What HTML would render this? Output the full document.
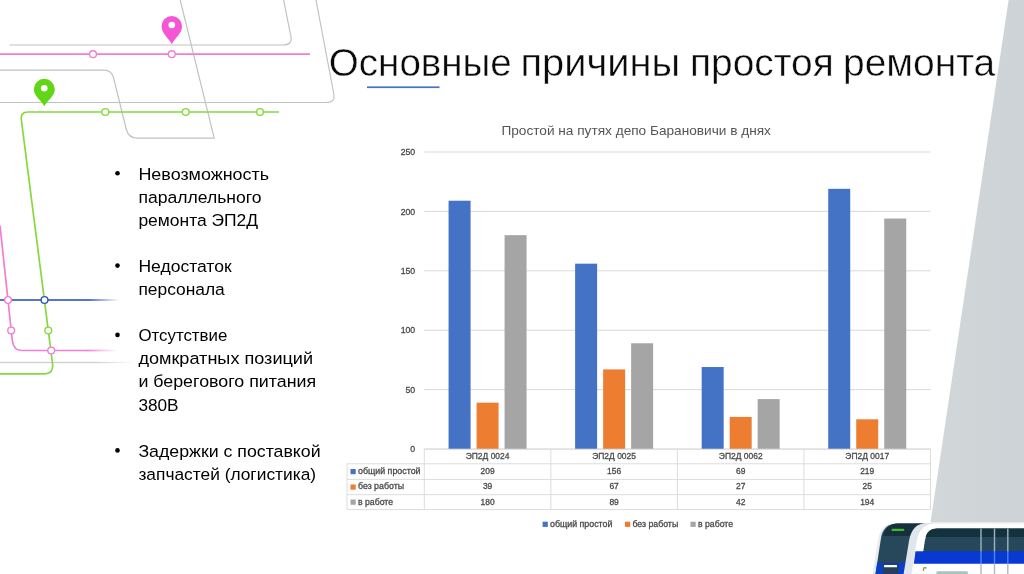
<!DOCTYPE html>
<html lang="ru"><head><meta charset="utf-8"><title>Основные причины простоя ремонта</title>
<style>html,body{margin:0;padding:0;background:#fff;overflow:hidden}svg{display:block}text{font-family:"Liberation Sans",sans-serif}</style>
</head><body>
<svg width="1024" height="574" viewBox="0 0 1024 574">
<defs>
<linearGradient id="fp" gradientUnits="userSpaceOnUse" x1="86" x2="118" y1="0" y2="0"><stop offset="0" stop-color="#f07fd2"/><stop offset="1" stop-color="#f07fd2" stop-opacity="0"/></linearGradient>
<linearGradient id="fg" gradientUnits="userSpaceOnUse" x1="0" x2="135" y1="0" y2="0"><stop offset="0" stop-color="#cfcfcf"/><stop offset="0.7" stop-color="#cfcfcf"/><stop offset="1" stop-color="#cfcfcf" stop-opacity="0"/></linearGradient>
<linearGradient id="fbl" gradientUnits="userSpaceOnUse" x1="0" x2="119" y1="0" y2="0"><stop offset="0" stop-color="#2f55b5"/><stop offset="0.75" stop-color="#2f55b5"/><stop offset="1" stop-color="#2f55b5" stop-opacity="0"/></linearGradient>
<linearGradient id="poly" x1="0" x2="1" y1="0" y2="0"><stop offset="0" stop-color="#d2d8d9"/><stop offset="1" stop-color="#cdd3d6"/></linearGradient>
</defs>
<rect width="1024" height="574" fill="#fff"/>
<polygon points="1008.6,0 1024,0 1024,522.4 930.5,522.4" fill="url(#poly)"/>
<g fill="none" stroke="#c0c3c3" stroke-width="1.2" stroke-linecap="round">
<path d="M10,45 H283 Q292.5,45 291,37 L283.6,0"/>
<path d="M0,70.2 H104 Q111.5,70.2 113.6,78 L126.3,129.5 Q128.6,138.2 138,138.2 H214.2 L180.2,0"/>
<path d="M0,102.5 H326 Q335.5,102.5 333.8,94 L316,0"/>
</g>
<rect x="0" y="361.85" width="140" height="1.3" fill="url(#fg)"/>
<path d="M0,54.2 H310" fill="none" stroke="#f07fd2" stroke-width="1.7"/>
<path d="M279,112 H28 Q20.5,112 21.3,119.5 L50.9,351 L52.6,364 Q53.4,373.8 45,373.8 H0" fill="none" stroke="#86d83f" stroke-width="1.7" stroke-linejoin="round"/>
<path d="M0,225.5 L11.3,331 L12.4,341 Q13.5,350.5 22,350.5 H86" fill="none" stroke="#f07fd2" stroke-width="1.7"/>
<rect x="86" y="349.65" width="38" height="1.7" fill="url(#fp)"/>
<rect x="0" y="299.2" width="126" height="1.6" fill="url(#fbl)"/>
<circle cx="93" cy="54.2" r="3.4" fill="#fff" stroke="#f07fd2" stroke-width="1.4"/>
<circle cx="171.8" cy="54.2" r="3.4" fill="#fff" stroke="#f07fd2" stroke-width="1.4"/>
<circle cx="105.3" cy="112" r="3.4" fill="#fff" stroke="#86d83f" stroke-width="1.4"/>
<circle cx="185.7" cy="112" r="3.4" fill="#fff" stroke="#86d83f" stroke-width="1.4"/>
<circle cx="260" cy="112" r="3.4" fill="#fff" stroke="#86d83f" stroke-width="1.4"/>
<circle cx="8" cy="300" r="3.4" fill="#fff" stroke="#f07fd2" stroke-width="1.4"/>
<circle cx="44.5" cy="300" r="3.4" fill="#fff" stroke="#2f55b5" stroke-width="1.4"/>
<circle cx="11.2" cy="330.5" r="3.4" fill="#fff" stroke="#f07fd2" stroke-width="1.4"/>
<circle cx="48.3" cy="330.5" r="3.4" fill="#fff" stroke="#86d83f" stroke-width="1.4"/>
<circle cx="51.2" cy="350.5" r="3.4" fill="#fff" stroke="#f07fd2" stroke-width="1.4"/>
<path d="M171.8,44.2 C168.8,38.2 161.55,33.15 161.55,26.15 A10.25,10.25 0 1 1 182.05,26.15 C182.05,33.15 174.8,38.2 171.8,44.2 Z" fill="#f556d4"/>
<circle cx="171.8" cy="25.049999999999997" r="3.3" fill="#fff"/>
<path d="M44.3,106.3 C41.3,100.3 33.8,96.3 33.8,89.3 A10.5,10.5 0 1 1 54.8,89.3 C54.8,96.3 47.3,100.3 44.3,106.3 Z" fill="#60d614"/>
<circle cx="44.3" cy="88.2" r="3.3" fill="#fff"/>
<text y="75.5" fill="#0a0a0a" stroke="#fff" stroke-width="0.45" font-size="39.5"><tspan x="328.8" textLength="183.0" lengthAdjust="spacingAndGlyphs">Основные</tspan> <tspan x="520.4" textLength="159.7" lengthAdjust="spacingAndGlyphs">причины</tspan> <tspan x="690.0" textLength="143.7" lengthAdjust="spacingAndGlyphs">простоя</tspan> <tspan x="843.0" textLength="152.2" lengthAdjust="spacingAndGlyphs">ремонта</tspan></text>
<rect x="367" y="86.4" width="72.5" height="1.7" fill="#4472c4"/>
<text x="138.4" y="179.5" font-size="17.2" fill="#000" text-anchor="start" textLength="130.70000000000002" lengthAdjust="spacingAndGlyphs">Невозможность</text>
<circle cx="117.5" cy="173.2" r="2.3" fill="#000"/>
<text x="138.4" y="202.6" font-size="17.2" fill="#000" text-anchor="start" textLength="123.2" lengthAdjust="spacingAndGlyphs">параллельного</text>
<text x="138.4" y="225.7" font-size="17.2" fill="#000" text-anchor="start" textLength="119.7" lengthAdjust="spacingAndGlyphs">ремонта ЭП2Д</text>
<text x="138.4" y="271.9" font-size="17.2" fill="#000" text-anchor="start" textLength="93.2" lengthAdjust="spacingAndGlyphs">Недостаток</text>
<circle cx="117.5" cy="265.59999999999997" r="2.3" fill="#000"/>
<text x="138.4" y="295.0" font-size="17.2" fill="#000" text-anchor="start" textLength="86.4" lengthAdjust="spacingAndGlyphs">персонала</text>
<text x="138.4" y="341.2" font-size="17.2" fill="#000" text-anchor="start" textLength="88.9" lengthAdjust="spacingAndGlyphs">Отсутствие</text>
<circle cx="117.5" cy="334.9" r="2.3" fill="#000"/>
<text x="138.4" y="364.3" font-size="17.2" fill="#000" text-anchor="start" textLength="174.70000000000002" lengthAdjust="spacingAndGlyphs">домкратных позиций</text>
<text x="138.4" y="387.4" font-size="17.2" fill="#000" text-anchor="start" textLength="177.70000000000002" lengthAdjust="spacingAndGlyphs">и берегового питания</text>
<text x="138.4" y="410.5" font-size="17.2" fill="#000" text-anchor="start" textLength="40.199999999999996" lengthAdjust="spacingAndGlyphs">380В</text>
<text x="138.4" y="456.7" font-size="17.2" fill="#000" text-anchor="start" textLength="182.20000000000002" lengthAdjust="spacingAndGlyphs">Задержки с поставкой</text>
<circle cx="117.5" cy="450.4" r="2.3" fill="#000"/>
<text x="138.4" y="479.8" font-size="17.2" fill="#000" text-anchor="start" textLength="177.70000000000002" lengthAdjust="spacingAndGlyphs">запчастей (логистика)</text>
<text x="636.2" y="135" font-size="13.1" fill="#555" text-anchor="middle" textLength="269.5" lengthAdjust="spacingAndGlyphs">Простой на путях депо Барановичи в днях</text>
<rect x="424.3" y="448.50" width="506.2" height="1" fill="#d9d9d9"/>
<text x="415.2" y="452.1" font-size="8.8" fill="#4a4a4a" text-anchor="end" textLength="4.85" lengthAdjust="spacingAndGlyphs" stroke="#4a4a4a" stroke-width="0.3">0</text>
<rect x="424.3" y="389.10" width="506.2" height="1" fill="#d9d9d9"/>
<text x="415.2" y="392.70000000000005" font-size="8.8" fill="#4a4a4a" text-anchor="end" textLength="9.7" lengthAdjust="spacingAndGlyphs" stroke="#4a4a4a" stroke-width="0.3">50</text>
<rect x="424.3" y="329.70" width="506.2" height="1" fill="#d9d9d9"/>
<text x="415.2" y="333.3" font-size="8.8" fill="#4a4a4a" text-anchor="end" textLength="14.549999999999999" lengthAdjust="spacingAndGlyphs" stroke="#4a4a4a" stroke-width="0.3">100</text>
<rect x="424.3" y="270.30" width="506.2" height="1" fill="#d9d9d9"/>
<text x="415.2" y="273.90000000000003" font-size="8.8" fill="#4a4a4a" text-anchor="end" textLength="14.549999999999999" lengthAdjust="spacingAndGlyphs" stroke="#4a4a4a" stroke-width="0.3">150</text>
<rect x="424.3" y="210.90" width="506.2" height="1" fill="#d9d9d9"/>
<text x="415.2" y="214.5" font-size="8.8" fill="#4a4a4a" text-anchor="end" textLength="14.549999999999999" lengthAdjust="spacingAndGlyphs" stroke="#4a4a4a" stroke-width="0.3">200</text>
<rect x="424.3" y="151.50" width="506.2" height="1" fill="#d9d9d9"/>
<text x="415.2" y="155.1" font-size="8.8" fill="#4a4a4a" text-anchor="end" textLength="14.549999999999999" lengthAdjust="spacingAndGlyphs" stroke="#4a4a4a" stroke-width="0.3">250</text>
<rect x="448.57" y="200.71" width="22" height="248.29" fill="#4472c4"/>
<rect x="476.57" y="402.67" width="22" height="46.33" fill="#ed7d31"/>
<rect x="504.57" y="235.16" width="22" height="213.84" fill="#a5a5a5"/>
<rect x="575.12" y="263.67" width="22" height="185.33" fill="#4472c4"/>
<rect x="603.12" y="369.40" width="22" height="79.60" fill="#ed7d31"/>
<rect x="631.12" y="343.27" width="22" height="105.73" fill="#a5a5a5"/>
<rect x="701.67" y="367.03" width="22" height="81.97" fill="#4472c4"/>
<rect x="729.67" y="416.92" width="22" height="32.08" fill="#ed7d31"/>
<rect x="757.67" y="399.10" width="22" height="49.90" fill="#a5a5a5"/>
<rect x="828.23" y="188.83" width="22" height="260.17" fill="#4472c4"/>
<rect x="856.23" y="419.30" width="22" height="29.70" fill="#ed7d31"/>
<rect x="884.23" y="218.53" width="22" height="230.47" fill="#a5a5a5"/>
<g stroke="#dcdcdc" stroke-width="1" fill="none">
<path d="M424.3,449.2 H930.5"/>
<path d="M347,463.8 H930.5"/>
<path d="M347,479.4 H930.5"/>
<path d="M347,494.7 H930.5"/>
<path d="M347,509.6 H930.5"/>
<path d="M347,463.8 V509.6"/>
<path d="M424.30,449.2 V509.6"/>
<path d="M550.85,449.2 V509.6"/>
<path d="M677.40,449.2 V509.6"/>
<path d="M803.95,449.2 V509.6"/>
<path d="M930.50,449.2 V509.6"/>
</g>
<text x="487.6" y="459.4" font-size="8.8" fill="#4a4a4a" text-anchor="middle" textLength="43.8" lengthAdjust="spacingAndGlyphs" stroke="#4a4a4a" stroke-width="0.3">ЭП2Д 0024</text>
<text x="487.6" y="473.8" font-size="8.8" fill="#4a4a4a" text-anchor="middle" textLength="14.100000000000001" lengthAdjust="spacingAndGlyphs" stroke="#4a4a4a" stroke-width="0.3">209</text>
<text x="487.6" y="489.4" font-size="8.8" fill="#4a4a4a" text-anchor="middle" textLength="9.4" lengthAdjust="spacingAndGlyphs" stroke="#4a4a4a" stroke-width="0.3">39</text>
<text x="487.6" y="504.7" font-size="8.8" fill="#4a4a4a" text-anchor="middle" textLength="14.100000000000001" lengthAdjust="spacingAndGlyphs" stroke="#4a4a4a" stroke-width="0.3">180</text>
<text x="614.1" y="459.4" font-size="8.8" fill="#4a4a4a" text-anchor="middle" textLength="43.8" lengthAdjust="spacingAndGlyphs" stroke="#4a4a4a" stroke-width="0.3">ЭП2Д 0025</text>
<text x="614.1" y="473.8" font-size="8.8" fill="#4a4a4a" text-anchor="middle" textLength="14.100000000000001" lengthAdjust="spacingAndGlyphs" stroke="#4a4a4a" stroke-width="0.3">156</text>
<text x="614.1" y="489.4" font-size="8.8" fill="#4a4a4a" text-anchor="middle" textLength="9.4" lengthAdjust="spacingAndGlyphs" stroke="#4a4a4a" stroke-width="0.3">67</text>
<text x="614.1" y="504.7" font-size="8.8" fill="#4a4a4a" text-anchor="middle" textLength="9.4" lengthAdjust="spacingAndGlyphs" stroke="#4a4a4a" stroke-width="0.3">89</text>
<text x="740.7" y="459.4" font-size="8.8" fill="#4a4a4a" text-anchor="middle" textLength="43.8" lengthAdjust="spacingAndGlyphs" stroke="#4a4a4a" stroke-width="0.3">ЭП2Д 0062</text>
<text x="740.7" y="473.8" font-size="8.8" fill="#4a4a4a" text-anchor="middle" textLength="9.4" lengthAdjust="spacingAndGlyphs" stroke="#4a4a4a" stroke-width="0.3">69</text>
<text x="740.7" y="489.4" font-size="8.8" fill="#4a4a4a" text-anchor="middle" textLength="9.4" lengthAdjust="spacingAndGlyphs" stroke="#4a4a4a" stroke-width="0.3">27</text>
<text x="740.7" y="504.7" font-size="8.8" fill="#4a4a4a" text-anchor="middle" textLength="9.4" lengthAdjust="spacingAndGlyphs" stroke="#4a4a4a" stroke-width="0.3">42</text>
<text x="867.2" y="459.4" font-size="8.8" fill="#4a4a4a" text-anchor="middle" textLength="43.8" lengthAdjust="spacingAndGlyphs" stroke="#4a4a4a" stroke-width="0.3">ЭП2Д 0017</text>
<text x="867.2" y="473.8" font-size="8.8" fill="#4a4a4a" text-anchor="middle" textLength="14.100000000000001" lengthAdjust="spacingAndGlyphs" stroke="#4a4a4a" stroke-width="0.3">219</text>
<text x="867.2" y="489.4" font-size="8.8" fill="#4a4a4a" text-anchor="middle" textLength="9.4" lengthAdjust="spacingAndGlyphs" stroke="#4a4a4a" stroke-width="0.3">25</text>
<text x="867.2" y="504.7" font-size="8.8" fill="#4a4a4a" text-anchor="middle" textLength="14.100000000000001" lengthAdjust="spacingAndGlyphs" stroke="#4a4a4a" stroke-width="0.3">194</text>
<rect x="350.5" y="469.00" width="5.2" height="5.2" fill="#4472c4"/>
<text x="358" y="473.8" font-size="8.8" fill="#4a4a4a" text-anchor="start" textLength="62.5" lengthAdjust="spacingAndGlyphs" stroke="#4a4a4a" stroke-width="0.3">общий простой</text>
<rect x="350.5" y="484.45" width="5.2" height="5.2" fill="#ed7d31"/>
<text x="358" y="489.4" font-size="8.8" fill="#4a4a4a" text-anchor="start" textLength="46" lengthAdjust="spacingAndGlyphs" stroke="#4a4a4a" stroke-width="0.3">без работы</text>
<rect x="350.5" y="499.55" width="5.2" height="5.2" fill="#a5a5a5"/>
<text x="358" y="504.7" font-size="8.8" fill="#4a4a4a" text-anchor="start" textLength="35" lengthAdjust="spacingAndGlyphs" stroke="#4a4a4a" stroke-width="0.3">в работе</text>
<rect x="542.6" y="521.7" width="5.2" height="5.2" fill="#4472c4"/>
<text x="550" y="527.4" font-size="8.8" fill="#4a4a4a" text-anchor="start" textLength="62.4" lengthAdjust="spacingAndGlyphs" stroke="#4a4a4a" stroke-width="0.3">общий простой</text>
<rect x="625" y="521.7" width="5.2" height="5.2" fill="#ed7d31"/>
<text x="632.4" y="527.4" font-size="8.8" fill="#4a4a4a" text-anchor="start" textLength="45.8" lengthAdjust="spacingAndGlyphs" stroke="#4a4a4a" stroke-width="0.3">без работы</text>
<rect x="690.5" y="521.7" width="5.2" height="5.2" fill="#a5a5a5"/>
<text x="698" y="527.4" font-size="8.8" fill="#4a4a4a" text-anchor="start" textLength="35" lengthAdjust="spacingAndGlyphs" stroke="#4a4a4a" stroke-width="0.3">в работе</text>
<g>
<path d="M872.5,574 L878.5,538 Q881,523 896,523 H925 V574 Z" fill="#e6ecf1"/>
<path d="M875.5,574 L881,538 Q883.5,523.6 898,523.6 H925 V574 Z" fill="#27485a"/>
<path d="M883.3,536 Q886,523.6 898,523.6 H925 V536 Z" fill="#16303d"/>
<path d="M877.2,562.5 H925 V574 H875.5 Z" fill="#0b3fc6"/>
<rect x="883" y="563.3" width="15.5" height="11" fill="#25415a"/>
<rect x="884" y="565" width="13" height="2.3" rx="0.6" fill="#fff"/>
<rect x="891.5" y="528.8" width="12.8" height="2.3" rx="1" fill="#3dbe2b"/>
<path d="M903.6,574 L909,541 Q912,523 927,523 H1024 V574 Z" fill="#e0e6eb"/>
<path d="M911.5,574 L916.8,541 Q919.5,523.4 936,523.4 H1024 V574 Z" fill="#fff"/>
<path d="M923.2,552 L925,540 Q927,528.5 937,528.5 H1024 V552 Z" fill="#26485a"/>
<path d="M925.6,537 Q927.4,528.5 937,528.5 H1024 V537 Z" fill="#14313e"/>
<path d="M915.5,551.3 H1024 V563.7 H913.8 Z" fill="#0839d2"/>
<rect x="923.3" y="567.3" width="3.2" height="1.2" fill="#3a9a3a"/><rect x="922.8" y="568.5" width="1.3" height="2.2" fill="#e8503a"/>
<path d="M936.3,574 V572.7 Q936.3,571.2 937.8,571.2 H966.5 Q968,571.2 968,572.7 V574 Z" fill="#b4bfbb"/>
<rect x="980.3" y="528.6" width="1.4" height="23" fill="#9fb5bd"/>
<rect x="980.3" y="551.4" width="1.4" height="12.3" fill="#4d86f5"/>
<rect x="980.3" y="563.7" width="1.4" height="11" fill="#b4b8ba"/>
<rect x="993.8" y="528.6" width="1.4" height="23" fill="#9fb5bd"/>
<rect x="993.8" y="551.4" width="1.4" height="12.3" fill="#4d86f5"/>
<rect x="993.8" y="563.7" width="1.4" height="11" fill="#b4b8ba"/>
<rect x="1007.0999999999999" y="528.6" width="1.4" height="23" fill="#9fb5bd"/>
<rect x="1007.0999999999999" y="551.4" width="1.4" height="12.3" fill="#4d86f5"/>
<rect x="1007.0999999999999" y="563.7" width="1.4" height="11" fill="#b4b8ba"/>
</g>
</svg></body></html>
